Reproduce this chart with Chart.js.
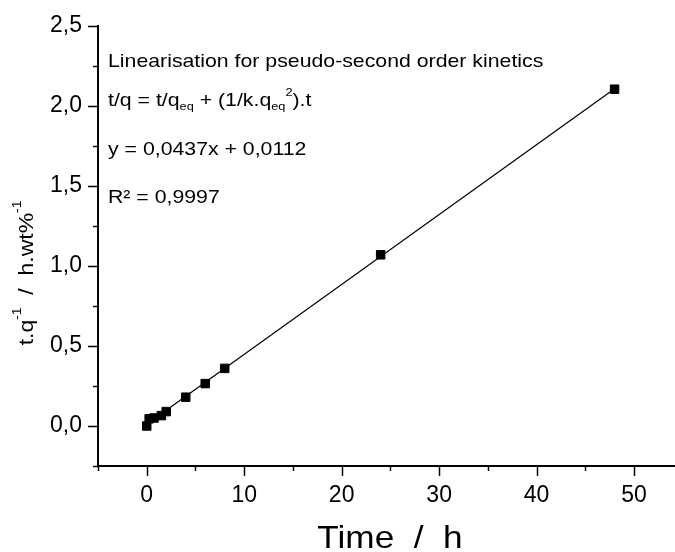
<!DOCTYPE html>
<html>
<head>
<meta charset="utf-8">
<script src="https://cdn.jsdelivr.net/npm/chart.js@4/dist/chart.umd.min.js"></script>
<style>
  html, body { margin: 0; padding: 0; background: #fff; overflow: hidden; }
  #wrap { width: 675px; height: 552px; }
</style>
</head>
<body>
<div id="wrap"><canvas id="kineticsChart"></canvas></div>
<script>
// measured points
const timeH = [0, 0.25, 0.75, 1.5, 2, 4, 6, 8, 24, 48];
const tOverQ = [0, 0.045, 0.05, 0.065, 0.09, 0.18, 0.265, 0.36, 1.07, 2.105];

// linear fit line, end points
const fitX = [0, 48];
const fitY = [0.011, 2.108];

const xTicks = [0, 10, 20, 30, 40, 50];
const xMinorTicks = [-5, 5, 15, 25, 35, 45];
const yTicks = [0, 0.5, 1, 1.5, 2, 2.5];
const yMinorTicks = [-0.25, 0.25, 0.75, 1.25, 1.75, 2.25];

const FONT = "'Liberation Sans', Arial, sans-serif";

// draws a line of text made of runs: [text, "n" | "sub" | "sup"]
function drawRuns(ctx, runs, x, y, size) {
    let cx = x;
    runs.forEach(([txt, mode]) => {
        const s = mode === "n" ? size : size * 0.6;
        const dy = mode === "sub" ? size * 0.3 : mode === "sup" ? -size * 0.45 : 0;
        ctx.font = s + "px " + FONT;
        ctx.fillText(txt, cx, y + dy);
        cx += ctx.measureText(txt).width;
    });
    return cx - x;
}

function runsWidth(ctx, runs, size) {
    let w = 0;
    runs.forEach(([txt, mode]) => {
        ctx.font = (mode === "n" ? size : size * 0.6) + "px " + FONT;
        w += ctx.measureText(txt).width;
    });
    return w;
}

const annotationLines = [
    [["Linearisation for pseudo-second order kinetics", "n"]],
    [["t/q = t/q", "n"], ["eq", "sub"], [" + (1/k.q", "n"], ["eq", "sub"], ["2", "sup"], [").t", "n"]],
    [["y = 0,0437x + 0,0112", "n"]],
    [["R² = 0,9997", "n"]],
];
const yTitleRuns = [["t.q", "n"], ["-1", "sup"], ["  /  h.wt%", "n"], ["-1", "sup"]];
const xTitle = "Time  /  h";

const extrasPlugin = {
    id: "extras",
    afterDraw(chart) {
        const ctx = chart.ctx;
        const xs = chart.scales.x, ys = chart.scales.y;
        const area = chart.chartArea;
        ctx.save();
        ctx.strokeStyle = "#000";
        ctx.lineWidth = 1.5;
        // x ticks, pointing down
        xTicks.concat(xMinorTicks).forEach(v => {
            const px = Math.round(xs.getPixelForValue(v)) + 0.5;
            const len = xTicks.includes(v) ? 10 : 5;
            ctx.beginPath();
            ctx.moveTo(px, area.bottom);
            ctx.lineTo(px, area.bottom + len);
            ctx.stroke();
        });
        // y ticks, pointing left
        yTicks.concat(yMinorTicks).forEach(v => {
            const py = Math.round(ys.getPixelForValue(v)) + 0.5;
            const len = yTicks.includes(v) ? 10 : 5;
            ctx.beginPath();
            ctx.moveTo(area.left, py);
            ctx.lineTo(area.left - len, py);
            ctx.stroke();
        });

        ctx.fillStyle = "#000";
        ctx.textBaseline = "middle";
        ctx.textAlign = "left";
        const lineY = [62, 101, 150, 198];
        annotationLines.forEach((runs, i) => {
            ctx.save();
            ctx.translate(area.left + 10, lineY[i]);
            ctx.scale(1.12, 1);
            drawRuns(ctx, runs, 0, 0, 19);
            ctx.restore();
        });

        // y axis title
        ctx.save();
        ctx.translate(27, 273);
        ctx.rotate(-Math.PI / 2);
        ctx.scale(1.15, 1);
        const w = runsWidth(ctx, yTitleRuns, 20);
        drawRuns(ctx, yTitleRuns, -w / 2, 0, 20);
        ctx.restore();

        // x axis title
        ctx.save();
        ctx.textAlign = "center";
        ctx.textBaseline = "alphabetic";
        ctx.translate(390, 548);
        ctx.scale(1.1, 1);
        ctx.font = "32px " + FONT;
        ctx.fillText(xTitle, 0, 0);
        ctx.restore();
        ctx.restore();
    }
};

const ctx = document.getElementById("kineticsChart").getContext("2d");

new Chart(ctx, {
    type: "scatter",
    data: {
        datasets: [
            {
                label: "fit",
                data: fitX.map((x, i) => ({ x, y: fitY[i] })),
                showLine: true,
                borderColor: "#000",
                borderWidth: 1.2,
                pointRadius: 0,
                order: 2
            },
            {
                label: "t/q",
                data: timeH.map((x, i) => ({ x, y: tOverQ[i] })),
                pointStyle: "rect",
                pointRadius: 6,
                backgroundColor: "#000",
                borderColor: "#000",
                borderWidth: 1,
                order: 1
            }
        ]
    },
    options: {
        responsive: true,
        maintainAspectRatio: false,
        animation: false,
        layout: { autoPadding: false, padding: { top: 26, right: 0, left: 0, bottom: 0 } },
        plugins: {
            legend: { display: false },
            tooltip: { enabled: false }
        },
        scales: {
            x: {
                type: "linear",
                min: -5,
                max: 54.2,
                afterBuildTicks: s => { s.ticks = xTicks.map(v => ({ value: v })); },
                afterFit: s => { s.height = 86; s.paddingLeft = 0; s.paddingRight = 0; },
                grid: { display: false },
                border: { display: true, color: "#000", width: 2 },
                ticks: {
                    color: "#000",
                    padding: 8,
                    maxRotation: 0,
                    font: { family: FONT, size: 23 },
                    callback: v => String(v)
                }
            },
            y: {
                type: "linear",
                min: -0.25,
                max: 2.5,
                afterBuildTicks: s => { s.ticks = yTicks.map(v => ({ value: v })); },
                afterFit: s => { s.width = 98; s.paddingTop = 0; s.paddingBottom = 0; },
                grid: { display: false },
                border: { display: true, color: "#000", width: 2 },
                ticks: {
                    color: "#000",
                    padding: 8,
                    font: { family: FONT, size: 23 },
                    callback: v => v.toFixed(1).replace(".", ",")
                }
            }
        }
    },
    plugins: [extrasPlugin]
});
</script>
</body>
</html>
